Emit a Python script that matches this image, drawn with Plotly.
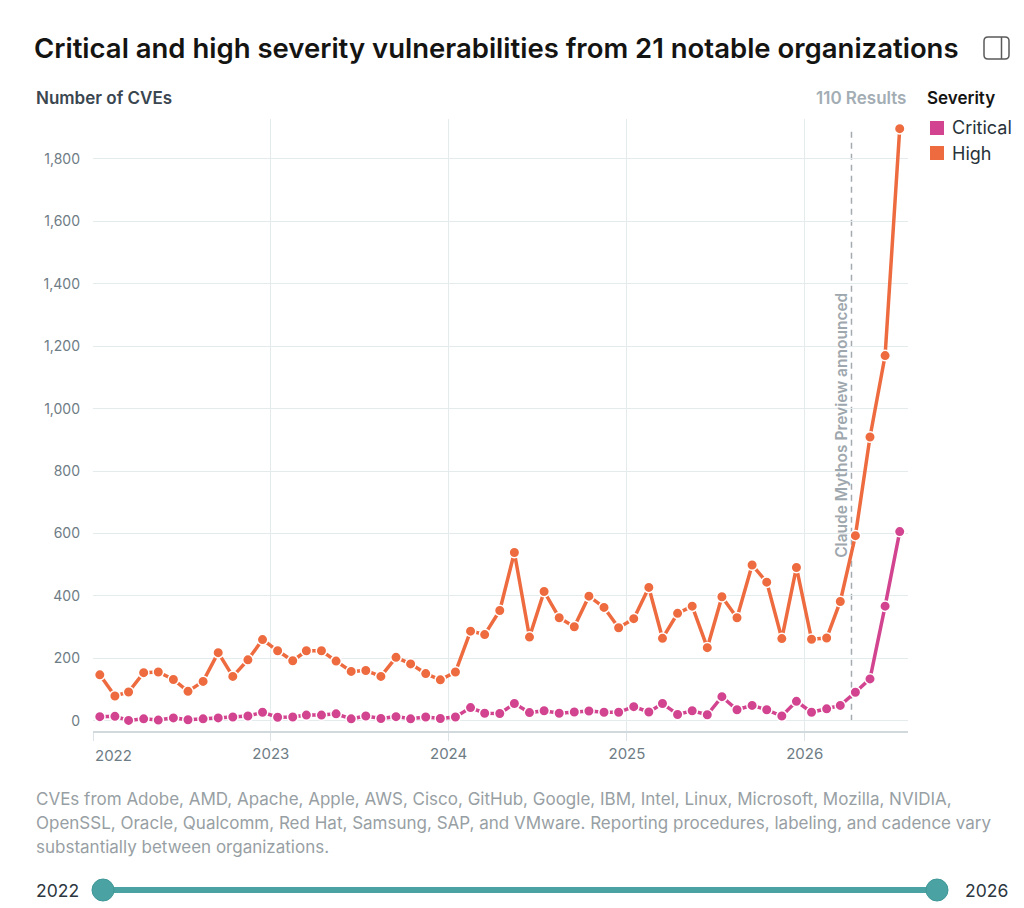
import pandas as pd
import plotly.graph_objects as go

# Monthly CVE counts, Jan 2022 - Jul 2026 (plotted mid-month)
months = pd.date_range("2022-01-01", "2026-07-01", freq="MS") + pd.Timedelta(days=14)

critical = [13, 14, 1, 6, 2, 9, 3, 6, 9, 12, 15, 27,
            11, 12, 18, 18, 22, 6, 15, 7, 13, 6, 12, 7,
            12, 42, 24, 23, 55, 26, 32, 24, 28, 31, 27, 27,
            45, 28, 55, 20, 32, 19, 77, 35, 49, 35, 15, 62,
            27, 38, 49, 91, 134, 367, 606]

high = [147, 79, 92, 154, 156, 132, 94, 126, 218, 142, 195, 260,
        224, 192, 224, 224, 191, 158, 161, 142, 203, 182, 151, 131,
        156, 287, 276, 353, 539, 268, 414, 330, 301, 399, 363, 298,
        327, 427, 264, 344, 367, 234, 397, 330, 499, 444, 263, 491,
        261, 265, 382, 593, 909, 1170, 1897]

severities = ["Critical", "High"]
colors = {"Critical": "#D2448F", "High": "#EE6B40"}

year_ticks = ["2023-01-01", "2024-01-01", "2025-01-01", "2026-01-01"]
year_labels = ["2023", "2024", "2025", "2026"]
y_ticks = [0, 200, 400, 600, 800, 1000, 1200, 1400, 1600, 1800]

event_date = "2026-04-07"
event_label = "Claude Mythos Preview announced"

footnote_lines = [
    "CVEs from Adobe, AMD, Apache, Apple, AWS, Cisco, GitHub, Google, IBM, Intel, Linux, Microsoft, Mozilla, NVIDIA,",
    "OpenSSL, Oracle, Qualcomm, Red Hat, Samsung, SAP, and VMware. Reporting procedures, labeling, and cadence vary",
    "substantially between organizations.",
]

FONT = "Inter"

# the page body adds an 8px margin, so work in page pixels and shift back
OFF = 8
FW, FH = 1024 - OFF, 908 - OFF
L, T, W, H = 93 - OFF, 119 - OFF, 815, 612
def px(x):
    return (x - OFF - L) / W
def py(y):
    return (T + H - (y - OFF)) / H

fig = go.Figure()

for name, vals in [("Critical", critical), ("High", high)]:
    fig.add_trace(go.Scatter(
        x=months, y=vals, name=name, mode="lines+markers",
        line=dict(color=colors[name], width=3.5),
        marker=dict(size=10.5, color=colors[name], line=dict(color="white", width=1.5)),
        showlegend=False, cliponaxis=False,
    ))

# event marker
fig.add_shape(type="line", xref="x", yref="y", x0=event_date, x1=event_date, y0=0, y1=1900,
              line=dict(color="#A3ABB0", width=1.5, dash="6px,5px"), layer="below")
fig.add_annotation(x=event_date, y=948, xref="x", yref="y", text=event_label, textangle=-90,
                   showarrow=False, xanchor="right", yanchor="middle", xshift=2,
                   font=dict(family=FONT, size=15.5, color="#9EA7AD", weight=600))

annos = [
    dict(x=px(34), y=py(98), text="Number of CVEs", xanchor="left",
         font=dict(size=17, color="#3A4650", weight=600)),
    dict(x=px(908), y=py(98), text="110 Results", xanchor="right",
         font=dict(size=17, color="#A3ADB4", weight=600)),
    dict(x=px(925), y=py(98), text="Severity", xanchor="left",
         font=dict(size=17, color="#141413", weight=600)),
    dict(x=px(950), y=py(128), text="Critical", xanchor="left",
         font=dict(size=18, color="#28323A")),
    dict(x=px(950), y=py(153), text="High", xanchor="left",
         font=dict(size=18, color="#28323A")),
    dict(x=px(34), y=py(890), text="2022", xanchor="left",
         font=dict(size=17.5, color="#2B3640")),
    dict(x=px(1010), y=py(890), text="2026", xanchor="right",
         font=dict(size=17.5, color="#2B3640")),
    dict(x=px(93), y=py(755), text="2022", xanchor="left",
         font=dict(size=15, color="#6E7C85")),
]
for i, line in enumerate(footnote_lines):
    annos.append(dict(x=px(34), y=py(799 + 24 * i), text=line, xanchor="left",
                      font=dict(size=17, color="#989FA4")))
for a in annos:
    a["font"]["family"] = FONT
    fig.add_annotation(xref="paper", yref="paper", showarrow=False, yanchor="middle", **a)

# legend squares
for i, name in enumerate(severities):
    cy = 128 + 25 * i
    fig.add_shape(type="rect", xref="paper", yref="paper",
                  x0=px(930), x1=px(944), y0=py(cy - 7), y1=py(cy + 7),
                  fillcolor=colors[name], line=dict(width=0))

# range slider look
fig.add_shape(type="line", xref="paper", yref="paper", x0=px(103), x1=px(937), y0=py(890), y1=py(890),
              line=dict(color="#4AA2A2", width=6))
for cx in [103, 937]:
    fig.add_shape(type="circle", xref="paper", yref="paper",
                  x0=px(cx - 11), x1=px(cx + 11), y0=py(890 - 11), y1=py(890 + 11),
                  fillcolor="#4AA2A2", line=dict(color="#3F9797", width=1))

# sidebar icon
x0, x1, y0, y1, r = 984, 1009, 37, 59, 4
icon = (f"M {px(x0 + r)},{py(y0)} L {px(x1 - r)},{py(y0)} Q {px(x1)},{py(y0)} {px(x1)},{py(y0 + r)} "
        f"L {px(x1)},{py(y1 - r)} Q {px(x1)},{py(y1)} {px(x1 - r)},{py(y1)} "
        f"L {px(x0 + r)},{py(y1)} Q {px(x0)},{py(y1)} {px(x0)},{py(y1 - r)} "
        f"L {px(x0)},{py(y0 + r)} Q {px(x0)},{py(y0)} {px(x0 + r)},{py(y0)} Z")
fig.add_shape(type="path", xref="paper", yref="paper", path=icon, line=dict(color="#5A5A5A", width=1.5))
fig.add_shape(type="line", xref="paper", yref="paper", x0=px(1001.5), x1=px(1001.5), y0=py(37), y1=py(59),
              line=dict(color="#5A5A5A", width=1.5))

fig.update_layout(
    width=FW, height=FH,
    margin=dict(l=L, r=FW - L - W, t=T, b=FH - T - H),
    paper_bgcolor="white", plot_bgcolor="white",
    font=dict(family=FONT, color="#6E7C85"),
    title=dict(text="Critical and high severity vulnerabilities from 21 notable organizations",
               x=(34 - OFF) / FW, xanchor="left", y=1 - (48 - OFF) / FH, yanchor="middle",
               font=dict(family=FONT, size=27.5, color="#141413", weight=600)),
    xaxis=dict(range=["2022-01-01", "2026-08-01"], tickvals=["2022-01-01"] + year_ticks,
               ticktext=[""] + year_labels, showgrid=True, gridcolor="#E4EBED", gridwidth=1,
               showline=True, linecolor="#D2D9DC", linewidth=1.5,
               ticks="outside", ticklen=8, tickcolor="#DCE3E6",
               tickfont=dict(size=15, color="#6E7C85"), zeroline=False),
    yaxis=dict(range=[-33, 1928], tickvals=y_ticks, tickformat=",d",
               showgrid=True, gridcolor="#E4EBED", gridwidth=1, zeroline=False,
               showline=False, ticks="", ticklabelstandoff=12,
               tickfont=dict(size=14, color="#6E7C85")),
)

fig.write_html("out.html")
